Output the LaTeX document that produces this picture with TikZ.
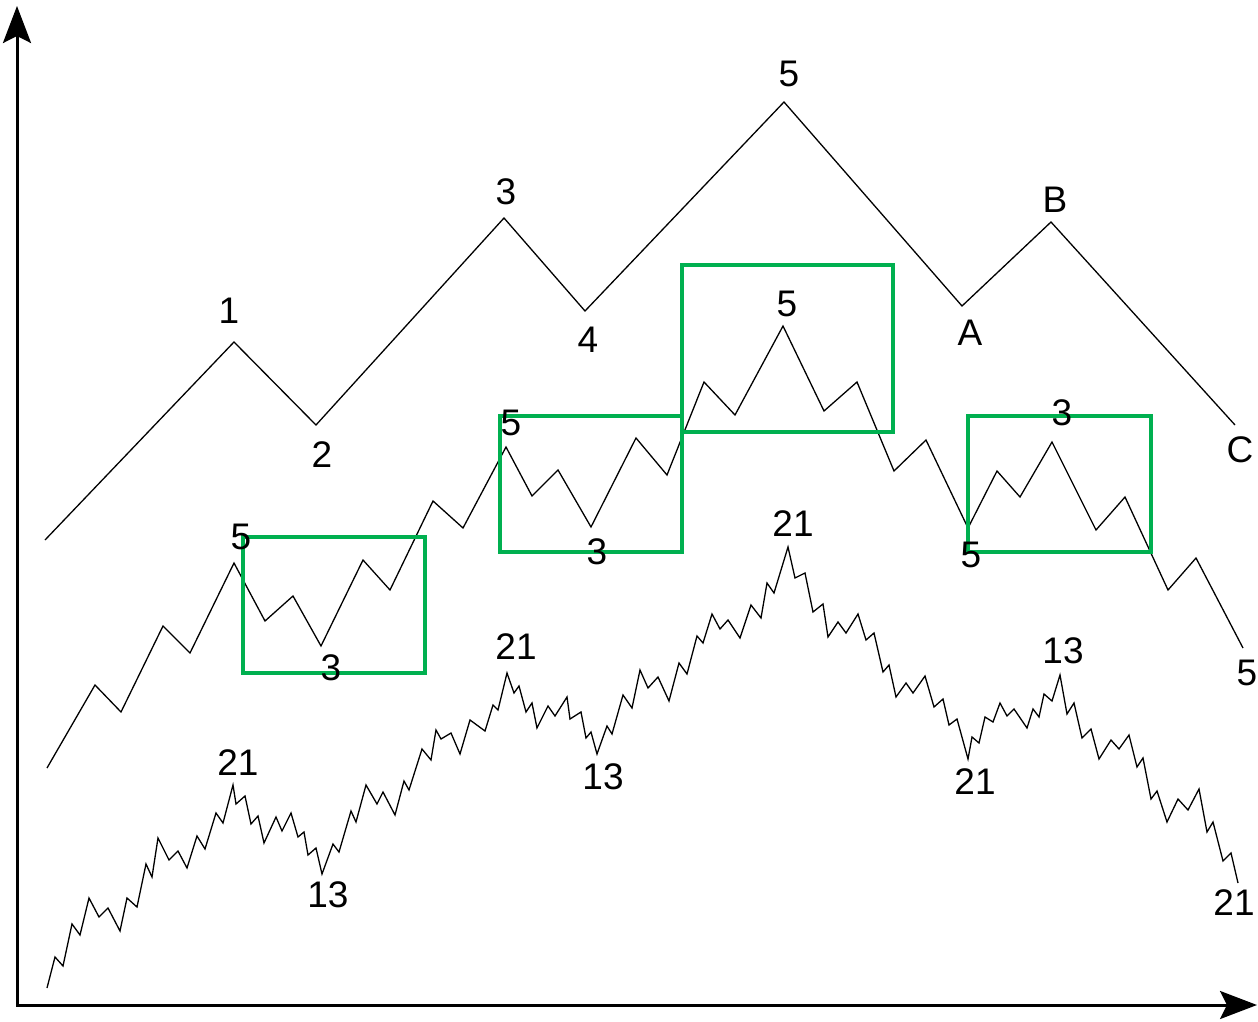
\documentclass[tikz,border=0pt]{standalone}
\usepackage{fontspec}
\setmainfont{Liberation Sans}
\usepackage{tikz}
\usetikzlibrary{arrows.meta}
\definecolor{boxgreen}{RGB}{0,176,80}

\begin{document}
\begin{tikzpicture}[x=1pt, y=-1pt,
    wavelbl/.style={font=\fontsize{37}{37}\selectfont, inner sep=0pt},
    wavebox/.style={boxgreen, line width=4pt},
    waveline/.style={line width=1.3pt, line join=miter}]
    \useasboundingbox (0,0) rectangle (1258,1022);

    % Axes
    \draw[{Stealth[length=37pt, width=28pt, inset=7pt]}-{Stealth[length=37pt, width=28pt, inset=7pt]},
        line width=3pt, line join=miter]
        (17,6) -- (17,1005) -- (1257,1005);

    % Primary wave
    \draw[waveline] (45,540) -- (234,342) -- (316,425) -- (504,218) -- (585,311)
        -- (784,102) -- (962,306) -- (1051,222) -- (1235,425);

    % Intermediate wave
    \draw[waveline] (47,768) -- (95,685) -- (121,712) -- (163,626) -- (190,653)
        -- (234,563) -- (265,621) -- (293,596) -- (321,646) -- (363,560)
        -- (390,590) -- (433,501) -- (463,528) -- (506,447) -- (532,496)
        -- (558,470) -- (591,527) -- (636,438) -- (667,475) -- (704,382)
        -- (735,415) -- (783,326) -- (824,411) -- (857,382) -- (894,471)
        -- (926,440) -- (968,528) -- (997,471) -- (1020,497) -- (1052,442)
        -- (1096,530) -- (1125,497) -- (1168,590) -- (1196,558) -- (1243,648);

    % Minor wave
    \draw[waveline] (47,988) -- (55,957) -- (63,966) -- (72,924) -- (80,935)
        -- (89,898) -- (99,917) -- (108,908) -- (120,931) -- (127,898)
        -- (137,907) -- (146,864) -- (152,877) -- (158,838) -- (169,860)
        -- (178,851) -- (187,868) -- (197,836) -- (205,849) -- (216,813)
        -- (223,823) -- (233,785) -- (236,804) -- (245,796) -- (251,824)
        -- (258,816) -- (264,843) -- (276,817) -- (282,831) -- (291,813)
        -- (298,837) -- (304,832) -- (308,855) -- (316,848) -- (322,874)
        -- (333,844) -- (339,852) -- (351,811) -- (356,822) -- (366,785)
        -- (377,804) -- (383,792) -- (395,815) -- (404,781) -- (409,790)
        -- (422,749) -- (431,760) -- (436,730) -- (441,739) -- (451,733)
        -- (460,754) -- (470,720) -- (485,731) -- (493,705) -- (498,710)
        -- (507,673) -- (514,693) -- (519,686) -- (526,712) -- (532,703)
        -- (537,728) -- (548,706) -- (555,716) -- (567,697) -- (570,719)
        -- (581,712) -- (586,738) -- (591,732) -- (597,754) -- (607,726)
        -- (612,734) -- (623,695) -- (632,708) -- (640,670) -- (648,688)
        -- (658,677) -- (669,701) -- (679,663) -- (687,674) -- (697,636)
        -- (703,643) -- (712,614) -- (720,629) -- (728,620) -- (740,638)
        -- (751,605) -- (761,618) -- (767,583) -- (774,593) -- (788,547)
        -- (795,578) -- (805,573) -- (813,612) -- (823,604) -- (828,637)
        -- (838,622) -- (846,633) -- (858,614) -- (866,640) -- (874,633)
        -- (883,672) -- (889,665) -- (896,697) -- (906,683) -- (913,693)
        -- (925,676) -- (934,707) -- (943,699) -- (949,725) -- (957,719)
        -- (968,759) -- (972,737) -- (979,743) -- (985,717) -- (993,722)
        -- (1000,703) -- (1007,716) -- (1014,709) -- (1027,728) -- (1033,709)
        -- (1039,717) -- (1044,694) -- (1052,701) -- (1060,675) -- (1067,714)
        -- (1074,703) -- (1082,738) -- (1091,729) -- (1099,759) -- (1111,740)
        -- (1119,749) -- (1129,735) -- (1137,767) -- (1143,758) -- (1151,799)
        -- (1157,791) -- (1167,822) -- (1178,799) -- (1188,810) -- (1199,789)
        -- (1207,832) -- (1213,822) -- (1223,861) -- (1231,853) -- (1238,883);

    % Boxes
    \draw[wavebox] (243,537) rectangle (425,673);
    \draw[wavebox] (500,416) rectangle (682,552);
    \draw[wavebox] (682,265) rectangle (893,432);
    \draw[wavebox] (968,416) rectangle (1151,552);

    % Primary labels
    \node[wavelbl] (p1) at (229,311) {1};
    \node[wavelbl] (p2) at (322,455) {2};
    \node[wavelbl] (p3) at (506,192) {3};
    \node[wavelbl] (p4) at (588,340) {4};
    \node[wavelbl] (p5) at (789,74) {5};
    \node[wavelbl] (pA) at (970,333) {A};
    \node[wavelbl] (pB) at (1055,200) {B};
    \node[wavelbl] (pC) at (1240,450) {C};

    % Intermediate labels
    \node[wavelbl] (m1) at (241,537) {5};
    \node[wavelbl] (m2) at (331,668) {3};
    \node[wavelbl] (m3) at (511,423) {5};
    \node[wavelbl] (m4) at (597,552) {3};
    \node[wavelbl] (m5) at (787,304) {5};
    \node[wavelbl] (mA) at (971,555) {5};
    \node[wavelbl] (mB) at (1062,413) {3};
    \node[wavelbl] (mC) at (1247,673) {5};

    % Minor labels
    \node[wavelbl] (s1) at (238,763) {21};
    \node[wavelbl] (s2) at (328,895) {13};
    \node[wavelbl] (s3) at (516,647) {21};
    \node[wavelbl] (s4) at (603,777) {13};
    \node[wavelbl] (s5) at (793,524) {21};
    \node[wavelbl] (sA) at (975,782) {21};
    \node[wavelbl] (sB) at (1063,651) {13};
    \node[wavelbl] (sC) at (1234,903) {21};
\end{tikzpicture}
\end{document}
